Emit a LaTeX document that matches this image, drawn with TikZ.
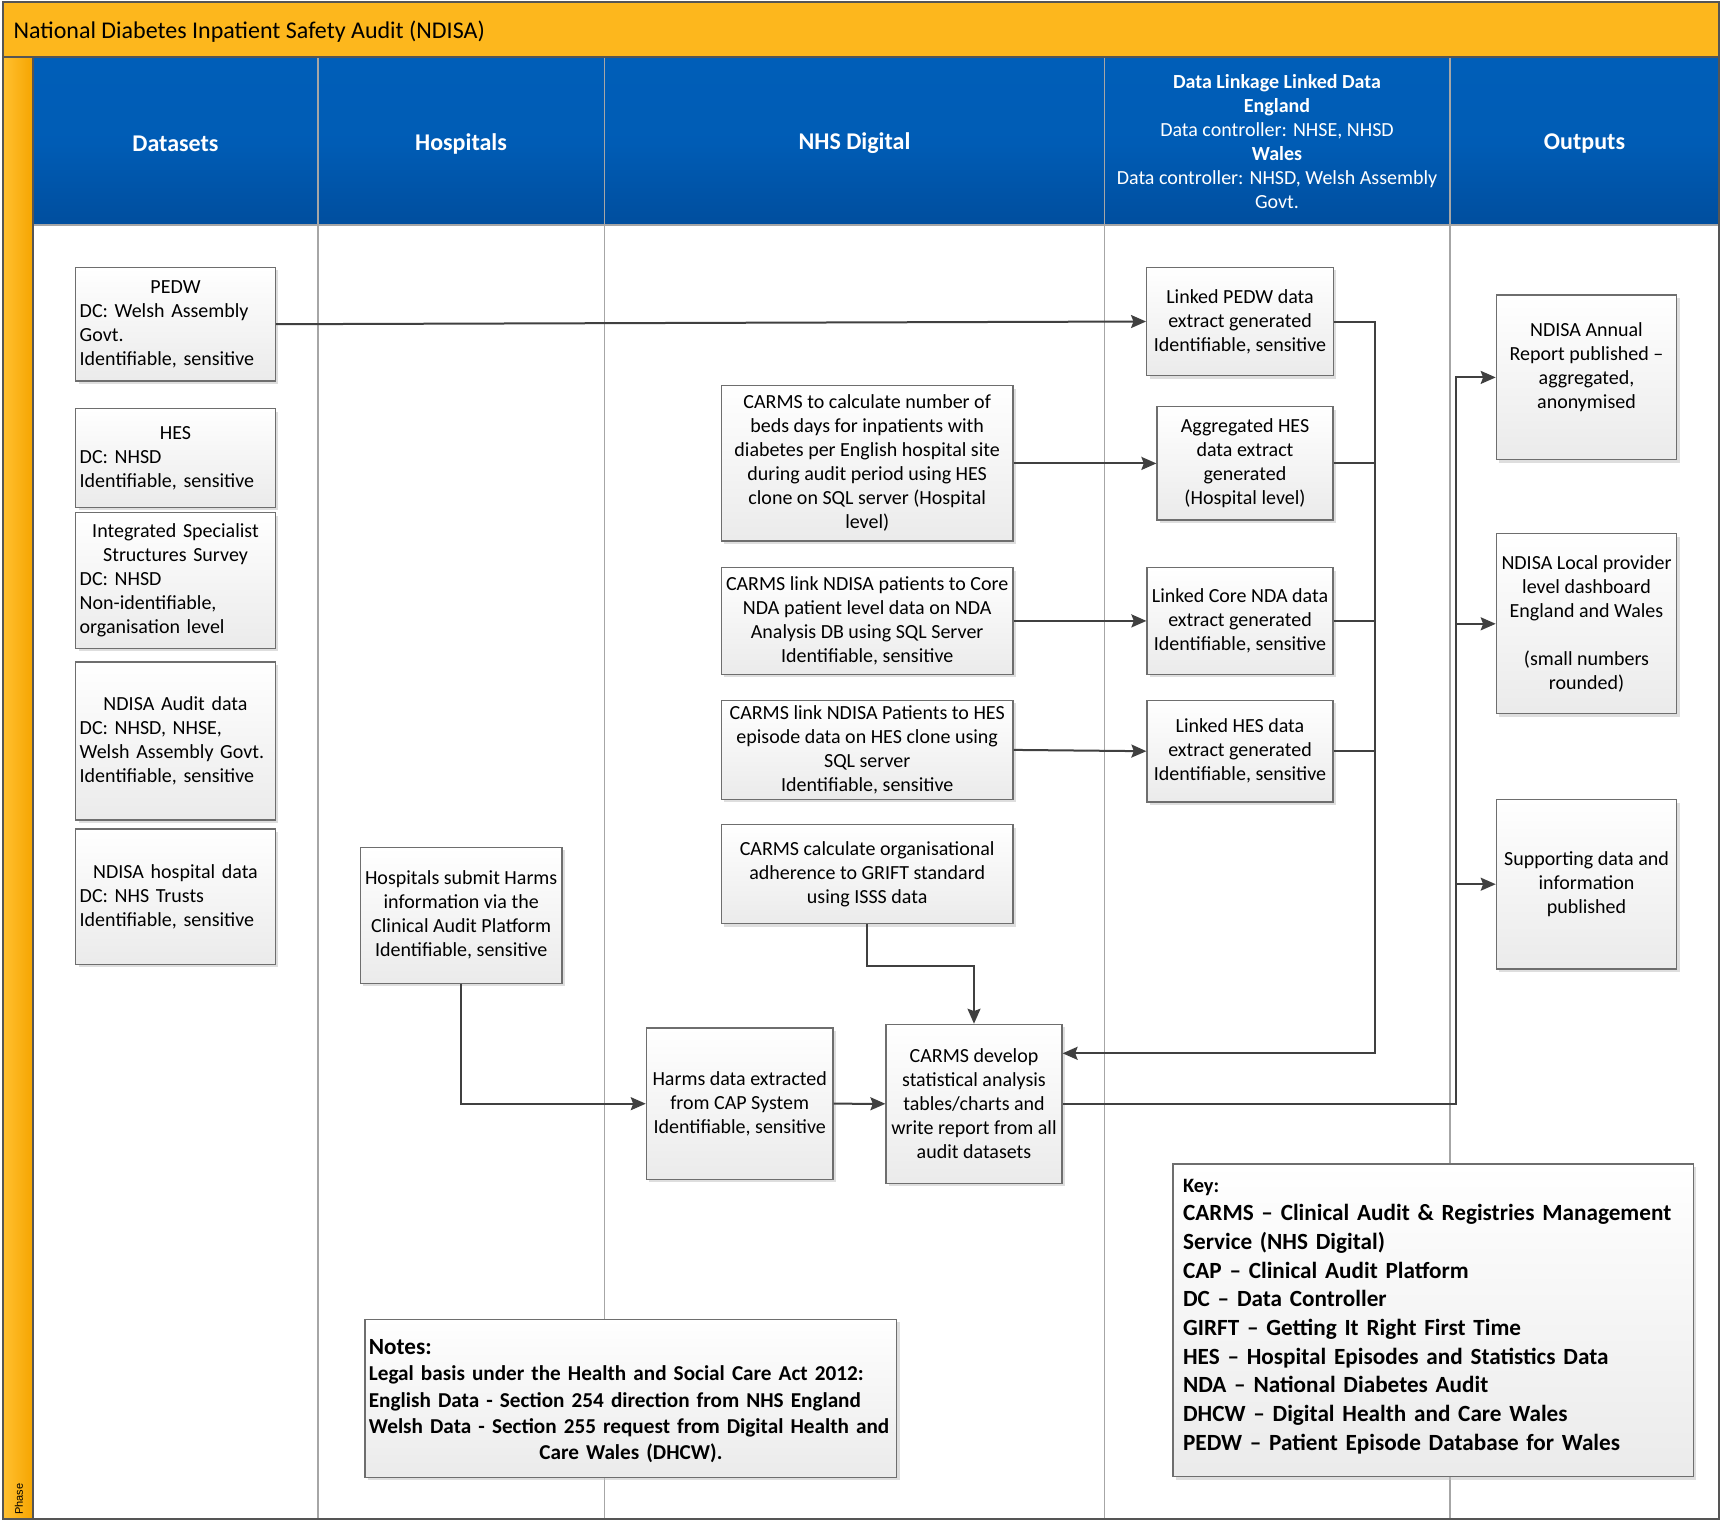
\documentclass[tikz,border=0pt]{standalone}
\usepackage{fontspec}
\setmainfont{Carlito}
\newfontfamily\phasefont{Liberation Sans}
\usetikzlibrary{arrows.meta,shadows}
\definecolor{ttl}{HTML}{FDB71D}
\definecolor{stripL}{HTML}{FFBF2F}
\definecolor{stripR}{HTML}{F6A500}
\definecolor{hdrT}{HTML}{005EB8}
\definecolor{hdrB}{HTML}{004E9E}
\definecolor{connc}{HTML}{404040}
\definecolor{boxline}{HTML}{6E6E6E}
\definecolor{colline}{HTML}{A6A6A6}
\definecolor{framec}{HTML}{555555}
\tikzset{
  procbox/.style={draw=boxline, line width=0.6pt, top color=white, bottom color=black!8,
    drop shadow={shadow xshift=1.5pt, shadow yshift=-1.5pt, fill=black!25, opacity=0.5},
    font=\fontsize{10}{12}\selectfont, align=center, inner sep=2pt},
  dsbox/.style={procbox, align=left, text width=95.8pt, minimum width=99.85pt},
  hdr/.style={text=white, font=\fontsize{12}{14.4}\selectfont\bfseries, align=center},
  conn/.style={draw=connc, line width=1pt, -{Stealth[length=7.5pt,width=6.5pt,inset=1.2pt]}},
  plainline/.style={draw=connc, line width=1pt},
  colsep/.style={draw=colline, line width=0.6pt}
}
\begin{document}
\begin{tikzpicture}[x=0.5pt, y=-0.5pt]
\useasboundingbox (0,0) rectangle (1721,1522);
% background
\fill[white] (0,0) rectangle (1721,1522);
\fill[ttl] (3,2) rectangle (1719,57);
\shade[left color=stripL, right color=stripR] (4,57) rectangle (33,1519);
\shade[top color=hdrT, bottom color=hdrB, middle color=hdrT!90!hdrB] (33,57) rectangle (1719,225);
% column lines
\foreach \cx in {318,604.5,1104.5,1450} \draw[colsep] (\cx,57) -- (\cx,1519);
\draw[colsep] (33,225) -- (1719,225);
\draw[draw=framec, line width=0.8pt] (33,57) -- (33,1519);
\draw[draw=framec, line width=0.8pt] (3,57) -- (1719,57);
\draw[draw=framec, line width=1.2pt] (3,2) rectangle (1719,1519);

% title and phase
\node[anchor=west, font=\fontsize{12}{14.4}\selectfont] (title) at (6.6,31.8) {National Diabetes Inpatient Safety Audit (NDISA)};
\node[rotate=90, font=\fontsize{5.5}{6}\selectfont\phasefont] (phase) at (19,1499) {Phase};

% headers
\node[hdr] (hds) at (175.5,143.5) {Datasets};
\node[hdr] (hho) at (461,143.5) {Hospitals};
\node[hdr] (hnd) at (854.5,143.5) {NHS Digital};
\node[hdr, font=\fontsize{10}{12}\selectfont] (hdl) at (1277,141.5) {\textbf{Data Linkage Linked Data}\\\textbf{England}\\Data controller: NHSE, NHSD\\\textbf{Wales}\\Data controller: NHSD, Welsh Assembly\\Govt.};
\node[hdr] (hou) at (1584.5,143.5) {Outputs};

% datasets
\node[dsbox, minimum height=56.85pt] (pedw) at (175.5,324.2) {\makebox[\hsize]{PEDW}\\DC: Welsh Assembly\\Govt.\\Identifiable, sensitive};
\node[dsbox, minimum height=49.35pt] (hes) at (175.5,458) {\makebox[\hsize]{HES}\\DC: NHSD\\Identifiable, sensitive};
\node[dsbox, minimum height=67.75pt] (isss) at (175.5,580.5) {\makebox[\hsize]{Integrated Specialist}\\\makebox[\hsize]{Structures Survey}\\DC: NHSD\\Non-identifiable,\\organisation level};
\node[dsbox, minimum height=79pt] (audit) at (175.5,741) {\makebox[\hsize]{NDISA Audit data}\\DC: NHSD, NHSE,\\Welsh Assembly Govt.\\Identifiable, sensitive};
\node[dsbox, minimum height=67.7pt] (hospdata) at (175.5,896.7) {\makebox[\hsize]{NDISA hospital data}\\DC: NHS Trusts\\Identifiable, sensitive};

% hospitals
\node[procbox, minimum width=100.75pt, minimum height=68pt] (hosp) at (461.2,915.3) {Hospitals submit Harms\\information via the\\Clinical Audit Platform\\Identifiable, sensitive};

% NHS Digital
\node[procbox, minimum width=145.8pt, minimum height=77.65pt] (calc) at (867.2,463.4) {CARMS to calculate number of\\beds days for inpatients with\\diabetes per English hospital site\\during audit period using HES\\clone on SQL server (Hospital\\level)};
\node[procbox, minimum width=145.8pt, minimum height=53.4pt] (core) at (867.2,620.9) {CARMS link NDISA patients to Core\\NDA patient level data on NDA\\Analysis DB using SQL Server\\Identifiable, sensitive};
\node[procbox, minimum width=145.8pt, minimum height=49.55pt] (clhes) at (867.2,749.9) {CARMS link NDISA Patients to HES\\episode data on HES clone using\\SQL server\\Identifiable, sensitive};
\node[procbox, minimum width=145.8pt, minimum height=49.55pt] (grift) at (867.2,874.3) {CARMS calculate organisational\\adherence to GRIFT standard\\using ISSS data};
\node[procbox, minimum width=93.35pt, minimum height=75.65pt] (harms) at (739.7,1103.7) {Harms data extracted\\from CAP System\\Identifiable, sensitive};
\node[procbox, minimum width=88pt, minimum height=79.5pt] (develop) at (974,1103.8) {CARMS develop\\statistical analysis\\tables/charts and\\write report from all\\audit datasets};

% Data linkage
\node[procbox, minimum width=93.35pt, minimum height=54.2pt] (lpedw) at (1240,321.5) {Linked PEDW data\\extract generated\\Identifiable, sensitive};
\node[procbox, minimum width=88pt, minimum height=56.6pt] (agg) at (1245,463.4) {Aggregated HES\\data extract\\generated\\(Hospital level)};
\node[procbox, minimum width=93pt, minimum height=53.4pt] (lcore) at (1240,620.9) {Linked Core NDA data\\extract generated\\Identifiable, sensitive};
\node[procbox, minimum width=93pt, minimum height=50.85pt] (lhes) at (1240,751.2) {Linked HES data\\extract generated\\Identifiable, sensitive};

% outputs
\node[procbox, minimum width=90.2pt, minimum height=82.35pt] (annual) at (1586.5,377.4) {NDISA Annual\\Report published –\\aggregated,\\anonymised\\\mbox{}};
\node[procbox, minimum width=90.2pt, minimum height=90.05pt] (local) at (1586.5,623.8) {NDISA Local provider\\level dashboard\\England and Wales\\\mbox{}\\(small numbers\\rounded)};
\node[procbox, minimum width=90.2pt, minimum height=84.7pt] (supp) at (1586.5,884.2) {Supporting data and\\information\\published};

% notes and key
\node[procbox, align=left, text width=262pt, inner xsep=1.9pt, minimum width=265.85pt, minimum height=79pt, font=\fontsize{10.6}{13.2}\selectfont\bfseries] (notes) at (630.9,1398.3) {{\fontsize{11.6}{14}\selectfont\rule{0pt}{10.4pt}Notes:}\\Legal basis under the Health and Social Care Act 2012:\\English Data - Section 254 direction from NHS England\\Welsh Data - Section 255 request from Digital Health and\\\makebox[\hsize]{Care Wales (DHCW).}};
\node[procbox, align=left, text width=250pt, inner xsep=4.5pt, minimum width=260.2pt, minimum height=156.35pt, font=\fontsize{11.6}{14.35}\selectfont\bfseries] (key) at (1433.1,1320.4) {{\fontsize{10.2}{12}\selectfont Key:}\\CARMS – Clinical Audit \& Registries Management\\Service (NHS Digital)\\CAP – Clinical Audit Platform\\DC – Data Controller\\GIRFT – Getting It Right First Time\\HES – Hospital Episodes and Statistics Data\\NDA – National Diabetes Audit\\DHCW – Digital Health and Care Wales\\PEDW – Patient Episode Database for Wales\rule[-5.8pt]{0pt}{0pt}};

% connectors
\draw[conn] (pedw.east) -- (lpedw.west);
\draw[conn] (calc.east) -- (agg.west);
\draw[conn] (core.east) -- (lcore.west);
\draw[conn] (clhes.east) -- (lhes.west);
\coordinate (busb) at (1375,1053.3);
\draw[conn] (lpedw.east) -| (busb) -- (busb -| develop.east);
\draw[plainline] (agg.east) -- (agg.east -| busb);
\draw[plainline] (lcore.east) -- (lcore.east -| busb);
\draw[plainline] (lhes.east) -- (lhes.east -| busb);
\coordinate (gk) at (920,966);
\draw[conn] (grift.south) |- (gk) -| (develop.north);
\draw[conn] (hosp.south) |- (harms.west);
\draw[conn] (harms.east) -- (develop.west);
\coordinate (ob) at (1456,0);
\draw[conn] (develop.east) -- (develop.east -| ob) |- (annual.west);
\draw[conn] (local.west -| ob) -- (local.west);
\draw[conn] (supp.west -| ob) -- (supp.west);
\end{tikzpicture}
\end{document}
